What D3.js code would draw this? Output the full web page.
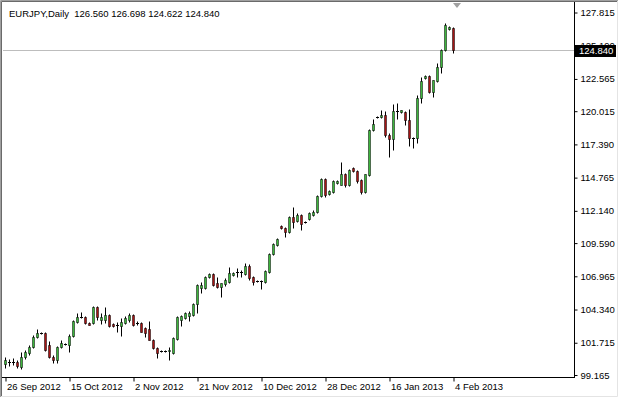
<!DOCTYPE html>
<html><head><meta charset="utf-8">
<script src="https://cdn.jsdelivr.net/npm/d3@7"></script>
<style>
html,body{margin:0;padding:0;background:#fff;}
svg{display:block;}
text{font-family:"Liberation Sans",Arial,sans-serif;}
</style></head>
<body>
<script>
const symbolTitle = "EURJPY,Daily";
const lastBar = [126.560, 126.698, 124.622, 124.840];
const priceTicks = [127.815,125.190,122.565,120.015,117.390,114.765,112.140,109.590,106.965,104.340,101.715,99.165];
const dateTickIndex = [0,16,32,48,64,80,96,112];
const dateTickLabels = ["26 Sep 2012","15 Oct 2012","2 Nov 2012","21 Nov 2012","10 Dec 2012","28 Dec 2012","16 Jan 2013","4 Feb 2013"];
const currentPrice = 124.840;

const open = [100.03,100.19,100.19,100.19,99.80,100.59,100.90,101.38,102.16,102.48,
102.48,101.53,100.59,100.35,101.38,101.60,101.53,102.24,103.35,103.74,
103.74,103.27,103.27,104.53,103.51,103.51,103.90,103.19,103.11,103.03,
103.27,103.51,103.90,103.27,103.27,102.88,102.80,101.93,101.30,101.06,
101.06,101.06,100.90,102.01,103.51,103.66,103.82,103.90,104.77,106.03,
106.03,106.90,107.14,106.43,106.11,106.35,106.51,107.06,107.30,107.30,
107.14,107.77,106.90,106.58,106.58,106.51,107.30,108.72,109.43,110.93,
110.77,110.45,111.64,111.32,111.79,111.24,111.48,111.79,112.03,113.29,
114.64,113.45,113.61,114.32,114.16,115.03,114.16,115.50,115.27,114.56,
113.61,114.95,118.50,119.53,119.53,119.69,118.11,117.79,120.00,119.92,
119.92,119.29,117.87,117.87,121.03,122.61,122.77,121.50,122.37,123.48,
124.82,126.55,126.560];
const high = [100.59,100.43,100.51,100.35,100.98,101.14,101.53,102.32,102.80,102.56,
102.56,101.85,100.74,101.45,101.93,101.69,102.40,103.51,104.06,104.14,
103.82,103.35,104.61,104.61,104.06,104.53,103.98,103.27,103.35,103.66,
103.82,104.06,103.98,103.43,103.35,102.95,103.43,102.01,101.38,101.14,
101.14,101.38,102.16,103.82,103.90,104.14,104.22,104.85,106.35,106.51,
106.98,107.22,107.22,106.90,106.43,106.82,107.69,107.30,107.61,107.45,
108.01,107.93,106.98,106.66,106.66,107.45,108.80,109.58,109.98,111.00,
110.85,111.72,112.43,111.95,111.87,111.32,112.03,112.19,113.37,114.71,
114.71,113.77,114.56,114.56,115.98,115.11,115.43,115.58,115.35,114.64,
115.03,118.58,119.37,119.61,120.08,120.00,118.27,120.56,120.63,120.08,
120.00,120.16,117.95,121.27,122.69,122.84,122.84,122.45,123.79,124.90,
126.95,126.71,126.698];
const low = [99.72,99.88,99.95,99.72,99.64,100.43,100.74,101.30,102.09,102.40,
101.06,100.51,100.11,100.11,101.30,101.53,100.98,102.16,103.27,103.66,
103.19,103.11,103.19,103.51,103.19,103.27,102.95,102.95,102.56,102.24,
103.19,103.35,103.03,103.11,102.56,102.16,101.93,101.22,100.51,100.98,
100.98,100.35,100.82,101.93,103.03,103.58,103.43,103.82,104.06,105.64,
105.95,106.82,106.19,106.03,105.32,106.19,106.43,106.98,106.90,106.90,
107.06,106.66,106.27,106.51,105.95,106.43,107.22,108.64,109.35,110.69,
110.06,110.37,110.77,111.24,110.61,111.16,111.40,111.72,111.95,113.21,
113.21,113.37,113.53,114.24,114.16,114.00,114.08,115.19,114.32,113.45,
113.53,114.87,118.42,119.45,119.45,117.95,116.37,116.92,119.37,119.85,
118.90,117.24,117.08,117.48,120.63,122.53,121.42,121.11,122.29,123.00,
124.74,126.40,124.622];
const close = [100.35,100.19,100.21,99.88,100.59,100.98,101.38,102.16,102.48,102.48,
101.14,100.59,100.35,101.38,101.69,101.62,102.24,103.43,103.74,103.74,
103.27,103.11,104.53,103.74,103.74,103.90,103.03,103.03,103.11,103.35,
103.66,103.90,103.11,103.27,102.56,102.48,101.93,101.30,100.90,101.06,
101.06,101.14,102.09,103.74,103.82,104.06,104.06,104.77,106.27,106.27,
106.90,107.14,106.27,106.11,106.43,106.66,107.22,107.22,107.30,107.30,
107.77,106.82,106.51,106.58,106.58,107.37,108.72,109.51,109.90,110.77,
110.45,111.64,111.24,111.79,111.08,111.24,111.95,112.03,113.29,114.64,
113.37,113.69,114.48,114.48,115.03,114.16,115.35,115.27,114.48,113.61,
115.03,118.50,118.98,119.53,119.69,118.11,117.79,120.00,120.00,120.08,
119.29,117.87,117.87,121.03,122.37,122.77,121.50,122.45,123.48,124.82,
126.79,126.63,124.840];

const W = 619, H = 398;
const bullFill = "#3db53d", bearFill = "#a41414";
const FONT = "Liberation Sans, Arial, sans-serif";
const FS = 9.5;

const svg = d3.select("body").append("svg").attr("width", W).attr("height", H);
svg.append("rect").attr("x",0).attr("y",0).attr("width",W).attr("height",H).attr("fill","#fff");

const x = d3.scaleLinear().domain([0, 112]).range([5.5, 453.5]);
const y = d3.scaleLinear().domain([99.165, 127.815]).range([375, 12.5]);
const py = v => Math.round(y(v)) + 0.5;

// price line
svg.append("line").attr("x1", 3).attr("x2", 574).attr("y1", py(currentPrice)).attr("y2", py(currentPrice))
  .attr("stroke", "#bdbdbd").attr("stroke-width", 1);

// candles
const idx = d3.range(open.length);
const g = svg.append("g");
g.selectAll("line.wick").data(idx).join("line").attr("class","wick")
  .attr("x1", i => x(i)).attr("x2", i => x(i))
  .attr("y1", i => py(high[i])).attr("y2", i => py(low[i]))
  .attr("stroke", "#000").attr("stroke-width", 1);
const bodyTop = i => py(Math.max(open[i], close[i]));
const bodyH = i => py(Math.min(open[i], close[i])) - bodyTop(i);
g.selectAll("rect.body").data(idx.filter(i => bodyH(i) > 0)).join("rect").attr("class","body")
  .attr("x", i => x(i) - 1)
  .attr("width", 2)
  .attr("y", bodyTop)
  .attr("height", bodyH)
  .attr("fill", i => close[i] >= open[i] ? bullFill : bearFill)
  .attr("stroke", "#000").attr("stroke-opacity", 0.5).attr("stroke-width", 1);
g.selectAll("line.doji").data(idx.filter(i => bodyH(i) === 0)).join("line").attr("class","doji")
  .attr("x1", i => x(i) - 1.5).attr("x2", i => x(i) + 1.5)
  .attr("y1", bodyTop).attr("y2", bodyTop)
  .attr("stroke", "#000").attr("stroke-width", 1);

// window frame
svg.append("path").attr("d", "M0.5,397 V0.5 H618").attr("fill","none").attr("stroke","#a0a0a0");
svg.append("path").attr("d", "M1.5,396 V1.5 H617").attr("fill","none").attr("stroke","#6a6a6a");
svg.append("path").attr("d", "M1,396.5 H617.5 V1").attr("fill","none").attr("stroke","#e4e4e4");

// axes frame
svg.append("line").attr("x1", 574.5).attr("x2", 574.5).attr("y1", 2).attr("y2", 378)
  .attr("stroke", "#000");
svg.append("line").attr("x1", 2).attr("x2", 575).attr("y1", 377.5).attr("y2", 377.5)
  .attr("stroke", "#000");

// price axis
const ya = svg.append("g").attr("transform", "translate(574.5,0)")
  .call(d3.axisRight(y).tickValues(priceTicks).tickFormat(d3.format(".3f")).tickSize(3).tickPadding(3));
ya.select(".domain").remove();
ya.selectAll("text").attr("font-family", FONT).attr("font-size", FS).attr("fill","#000");
ya.selectAll("line").attr("stroke","#000");

// current price label
const cp = svg.append("g");
cp.append("rect").attr("x", 575).attr("y", py(currentPrice) - 5.5).attr("width", 41).attr("height", 12).attr("fill", "#000");
cp.append("text").attr("x", 579).attr("y", py(currentPrice) + 0.5).attr("dy","0.35em")
  .attr("font-family", FONT).attr("font-size", FS).attr("fill", "#fff").text(d3.format(".3f")(currentPrice));

// date axis
const xa = svg.append("g").attr("transform", "translate(0,377.5)")
  .call(d3.axisBottom(x).tickValues(dateTickIndex).tickFormat((d,i) => dateTickLabels[i]).tickSize(4).tickPadding(2));
xa.select(".domain").remove();
xa.selectAll("text").attr("text-anchor","start").attr("dx", 1).attr("font-family", FONT).attr("font-size", FS).attr("fill","#000");
xa.selectAll("line").attr("stroke","#000");

// title
svg.append("text").attr("x", 9).attr("y", 16.5).attr("font-family", FONT).attr("font-size", FS).attr("fill", "#000")
  .style("white-space","pre")
  .text(symbolTitle + "  " + lastBar.map(d3.format(".3f")).join(" "));

// chart shift marker
svg.append("path").attr("d", d3.line()([[453,3],[461,3],[457,8]]) + "Z").attr("fill", "#a0a0a0");
</script>
</body></html>
